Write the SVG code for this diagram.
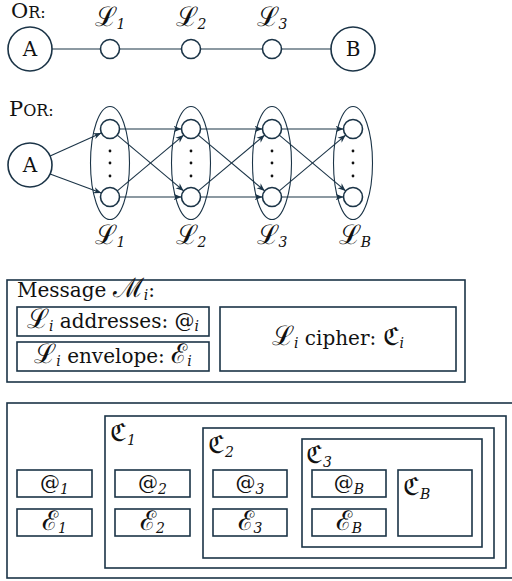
<svg xmlns="http://www.w3.org/2000/svg" width="512" height="581" viewBox="0 0 512 581">
<style>
.n{fill:#fff;stroke:#1b3447;stroke-width:1.6}
.e{fill:none;stroke:#1b3447;stroke-width:1.1}
.b{fill:#fff;stroke:#1b3447;stroke-width:1.6}
.c{stroke:#1b3447;stroke-width:1.1;fill:none}
.a{stroke:#1b3447;stroke-width:1.1;fill:none;marker-end:url(#ah)}
text{font-family:"DejaVu Serif",serif;fill:#111}
.t{font-family:"DejaVu Serif",serif;font-size:20px}
.big{font-family:"DejaVu Serif",serif;font-size:21px}
.sc{font-family:"DejaVu Serif",serif;font-size:16px}
.s{font-family:"DejaVu Serif",serif;font-size:27px}
.f{font-family:"DejaVu Serif",serif;font-size:25px}
.sub{font-family:"DejaVu Serif",serif;font-style:italic;font-size:14px}
</style>
<defs>
<marker id="ah" viewBox="0 0 10 10" refX="10" refY="5" markerWidth="8" markerHeight="8" markerUnits="userSpaceOnUse" orient="auto"><path d="M0,1 L10,5 L0,9 L3,5 z" fill="#1b3447"/></marker>
</defs>
<!-- OR -->
<text x="11" y="18"><tspan class="big">O</tspan><tspan class="sc">R:</tspan></text>
<g id="connectors-or">
<line class="c" x1="52" y1="49" x2="100.5" y2="49"/>
<line class="c" x1="119.5" y1="49" x2="181.5" y2="49"/>
<line class="c" x1="200.5" y1="49" x2="262.5" y2="49"/>
<line class="c" x1="281.5" y1="49" x2="331" y2="49"/>
</g>
<g id="or-A"><circle class="n" cx="30" cy="49" r="22"/><text class="t" x="30" y="56" text-anchor="middle">A</text></g>
<g id="or-L1"><circle class="n" cx="110" cy="49" r="9.5"/><text x="110" y="26" text-anchor="middle"><tspan class="s">ℒ</tspan><tspan class="sub" dy="3">1</tspan></text></g>
<g id="or-L2"><circle class="n" cx="191" cy="49" r="9.5"/><text x="191" y="26" text-anchor="middle"><tspan class="s">ℒ</tspan><tspan class="sub" dy="3">2</tspan></text></g>
<g id="or-L3"><circle class="n" cx="272" cy="49" r="9.5"/><text x="272" y="26" text-anchor="middle"><tspan class="s">ℒ</tspan><tspan class="sub" dy="3">3</tspan></text></g>
<g id="or-B"><circle class="n" cx="353" cy="49" r="22"/><text class="t" x="353" y="56" text-anchor="middle">B</text></g>
<!-- POR -->
<text x="9" y="116"><tspan class="big">P</tspan><tspan class="sc">OR:</tspan></text>
<g id="por-A"><circle class="n" cx="30" cy="165" r="22"/><text class="t" x="30" y="172" text-anchor="middle">A</text></g>
<g id="por-L1"><ellipse class="e" cx="110" cy="163" rx="19.5" ry="56.5"/><circle class="n" cx="110" cy="129" r="9.5"/><circle class="n" cx="110" cy="197" r="9.5"/>
<circle cx="110" cy="151" r="1.4" fill="#111"/><circle cx="110" cy="163" r="1.4" fill="#111"/><circle cx="110" cy="176" r="1.4" fill="#111"/>
<text x="110" y="244" text-anchor="middle"><tspan class="s">ℒ</tspan><tspan class="sub" dy="3">1</tspan></text></g>
<g id="por-L2"><ellipse class="e" cx="191" cy="163" rx="19.5" ry="56.5"/><circle class="n" cx="191" cy="129" r="9.5"/><circle class="n" cx="191" cy="197" r="9.5"/>
<circle cx="191" cy="151" r="1.4" fill="#111"/><circle cx="191" cy="163" r="1.4" fill="#111"/><circle cx="191" cy="176" r="1.4" fill="#111"/>
<text x="191" y="244" text-anchor="middle"><tspan class="s">ℒ</tspan><tspan class="sub" dy="3">2</tspan></text></g>
<g id="por-L3"><ellipse class="e" cx="272" cy="163" rx="19.5" ry="56.5"/><circle class="n" cx="272" cy="129" r="9.5"/><circle class="n" cx="272" cy="197" r="9.5"/>
<circle cx="272" cy="151" r="1.4" fill="#111"/><circle cx="272" cy="163" r="1.4" fill="#111"/><circle cx="272" cy="176" r="1.4" fill="#111"/>
<text x="272" y="244" text-anchor="middle"><tspan class="s">ℒ</tspan><tspan class="sub" dy="3">3</tspan></text></g>
<g id="por-LB"><ellipse class="e" cx="353" cy="163" rx="19.5" ry="56.5"/><circle class="n" cx="353" cy="129" r="9.5"/><circle class="n" cx="353" cy="197" r="9.5"/>
<circle cx="353" cy="151" r="1.4" fill="#111"/><circle cx="353" cy="163" r="1.4" fill="#111"/><circle cx="353" cy="176" r="1.4" fill="#111"/>
<text x="355" y="244" text-anchor="middle"><tspan class="s">ℒ</tspan><tspan class="sub" dy="3">B</tspan></text></g>
<g id="connectors-por">
<line class="a" x1="50.1" y1="156" x2="101.3" y2="132.9"/>
<line class="a" x1="50.1" y1="174" x2="101.3" y2="193.1"/>
<line class="a" x1="119.5" y1="129" x2="181.5" y2="129"/>
<line class="a" x1="119.5" y1="197" x2="181.5" y2="197"/>
<line class="a" x1="117.3" y1="135.1" x2="183.7" y2="190.9"/>
<line class="a" x1="117.3" y1="190.9" x2="183.7" y2="135.1"/>
<line class="a" x1="200.5" y1="129" x2="262.5" y2="129"/>
<line class="a" x1="200.5" y1="197" x2="262.5" y2="197"/>
<line class="a" x1="198.3" y1="135.1" x2="264.7" y2="190.9"/>
<line class="a" x1="198.3" y1="190.9" x2="264.7" y2="135.1"/>
<line class="a" x1="281.5" y1="129" x2="343.5" y2="129"/>
<line class="a" x1="281.5" y1="197" x2="343.5" y2="197"/>
<line class="a" x1="279.3" y1="135.1" x2="345.7" y2="190.9"/>
<line class="a" x1="279.3" y1="190.9" x2="345.7" y2="135.1"/>
</g>
<!-- Message -->
<g id="message">
<rect class="b" x="7" y="280" width="458" height="102"/>
<text x="17" y="297"><tspan class="t">Message </tspan><tspan class="s">ℳ</tspan><tspan class="sub" dy="3">i</tspan><tspan class="t" dy="-3">:</tspan></text>
</g>
<g id="addresses"><rect class="b" x="17" y="307" width="192" height="29"/>
<text x="113" y="328" text-anchor="middle"><tspan class="s">ℒ</tspan><tspan class="sub" dy="3">i</tspan><tspan class="t" dy="-3"> addresses: @</tspan><tspan class="sub" dy="3">i</tspan></text></g>
<g id="envelope"><rect class="b" x="17" y="342" width="192" height="29"/>
<text x="113" y="363" text-anchor="middle"><tspan class="s">ℒ</tspan><tspan class="sub" dy="3">i</tspan><tspan class="t" dy="-3"> envelope: </tspan><tspan class="s">ℰ</tspan><tspan class="sub" dy="3">i</tspan></text></g>
<g id="cipher"><rect class="b" x="220" y="307" width="236" height="64"/>
<text x="338" y="345" text-anchor="middle"><tspan class="s">ℒ</tspan><tspan class="sub" dy="3">i</tspan><tspan class="t" dy="-3"> cipher: </tspan><tspan class="f">ℭ</tspan><tspan class="sub" dy="3">i</tspan></text></g>
<!-- Nested -->
<g id="outer"><rect class="b" x="7" y="403" width="515" height="175"/></g>
<g id="c1box"><rect class="b" x="105" y="416" width="401" height="152"/>
<text x="110" y="441"><tspan class="f">ℭ</tspan><tspan class="sub" dy="4">1</tspan></text></g>
<g id="c2box"><rect class="b" x="203" y="428" width="291" height="130"/>
<text x="208" y="453"><tspan class="f">ℭ</tspan><tspan class="sub" dy="4">2</tspan></text></g>
<g id="c3box"><rect class="b" x="302" y="439" width="180" height="108"/>
<text x="306" y="463"><tspan class="f">ℭ</tspan><tspan class="sub" dy="4">3</tspan></text></g>
<g id="cBbox"><rect class="b" x="398" y="470" width="74" height="66"/>
<text x="403" y="495"><tspan class="f">ℭ</tspan><tspan class="sub" dy="4">B</tspan></text></g>
<g id="at1"><rect class="b" x="17" y="470" width="75" height="27"/><text x="54.5" y="490" text-anchor="middle"><tspan class="t">@</tspan><tspan class="sub" dy="4">1</tspan></text></g>
<g id="e1"><rect class="b" x="17" y="509" width="75" height="27"/><text x="54.5" y="530" text-anchor="middle"><tspan class="s">ℰ</tspan><tspan class="sub" dy="3">1</tspan></text></g>
<g id="at2"><rect class="b" x="115" y="470" width="75" height="27"/><text x="152.5" y="490" text-anchor="middle"><tspan class="t">@</tspan><tspan class="sub" dy="4">2</tspan></text></g>
<g id="e2"><rect class="b" x="115" y="509" width="75" height="27"/><text x="152.5" y="530" text-anchor="middle"><tspan class="s">ℰ</tspan><tspan class="sub" dy="3">2</tspan></text></g>
<g id="at3"><rect class="b" x="213" y="470" width="74" height="27"/><text x="250" y="490" text-anchor="middle"><tspan class="t">@</tspan><tspan class="sub" dy="4">3</tspan></text></g>
<g id="e3"><rect class="b" x="213" y="509" width="74" height="27"/><text x="250" y="530" text-anchor="middle"><tspan class="s">ℰ</tspan><tspan class="sub" dy="3">3</tspan></text></g>
<g id="atB"><rect class="b" x="312" y="470" width="74" height="27"/><text x="349" y="490" text-anchor="middle"><tspan class="t">@</tspan><tspan class="sub" dy="4">B</tspan></text></g>
<g id="eB"><rect class="b" x="312" y="509" width="74" height="27"/><text x="349" y="530" text-anchor="middle"><tspan class="s">ℰ</tspan><tspan class="sub" dy="3">B</tspan></text></g>
</svg>
